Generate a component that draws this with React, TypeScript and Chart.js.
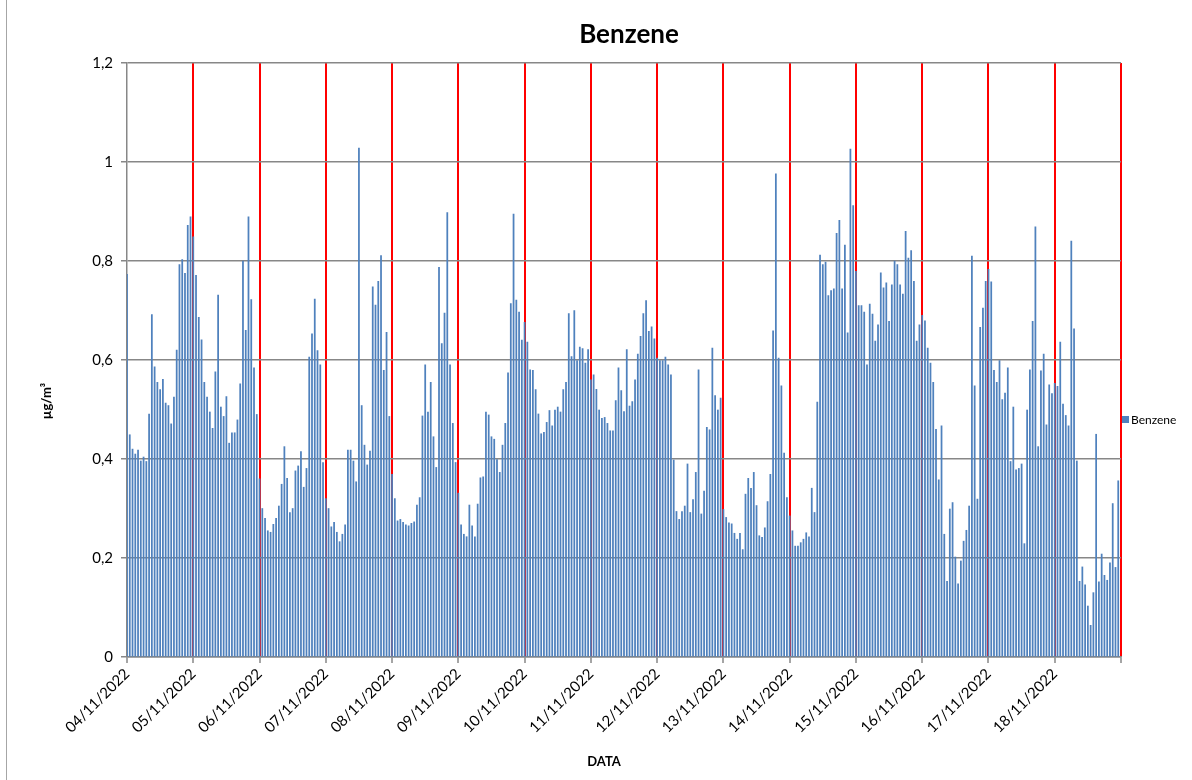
import React, { useEffect, useRef } from 'react';
import { Chart, registerables } from 'chart.js';

Chart.register(...registerables);

const dayLabels = [
  '04/11/2022', '05/11/2022', '06/11/2022', '07/11/2022', '08/11/2022',
  '09/11/2022', '10/11/2022', '11/11/2022', '12/11/2022', '13/11/2022',
  '14/11/2022', '15/11/2022', '16/11/2022', '17/11/2022', '18/11/2022',
];

const day04 = [0.773, 0.449, 0.42, 0.41, 0.418, 0.396, 0.404, 0.395, 0.491, 0.692, 0.586, 0.555, 0.54, 0.561, 0.513, 0.508, 0.471, 0.525, 0.62, 0.793, 0.803, 0.775, 0.872, 0.889];
const day05 = [0.849, 0.771, 0.686, 0.641, 0.555, 0.525, 0.495, 0.462, 0.576, 0.731, 0.505, 0.486, 0.526, 0.432, 0.453, 0.453, 0.479, 0.552, 0.8, 0.66, 0.889, 0.722, 0.584, 0.49];
const day06 = [0.36, 0.3, 0.28, 0.255, 0.252, 0.268, 0.28, 0.305, 0.349, 0.425, 0.361, 0.292, 0.3, 0.376, 0.386, 0.415, 0.343, 0.381, 0.606, 0.653, 0.723, 0.619, 0.59, 0.393];
const day07 = [0.32, 0.3, 0.263, 0.272, 0.252, 0.233, 0.248, 0.267, 0.418, 0.418, 0.396, 0.354, 1.028, 0.508, 0.428, 0.388, 0.416, 0.748, 0.711, 0.759, 0.811, 0.579, 0.656, 0.486];
const day08 = [0.369, 0.32, 0.275, 0.278, 0.272, 0.267, 0.265, 0.27, 0.273, 0.307, 0.322, 0.487, 0.59, 0.495, 0.555, 0.445, 0.383, 0.787, 0.633, 0.695, 0.898, 0.59, 0.472, 0.393];
const day09 = [0.331, 0.267, 0.248, 0.243, 0.307, 0.265, 0.243, 0.309, 0.362, 0.364, 0.495, 0.489, 0.445, 0.44, 0.399, 0.373, 0.428, 0.472, 0.574, 0.714, 0.895, 0.721, 0.697, 0.64];
const day10 = [0.676, 0.636, 0.58, 0.579, 0.54, 0.491, 0.451, 0.454, 0.474, 0.498, 0.467, 0.499, 0.505, 0.495, 0.54, 0.555, 0.694, 0.607, 0.7, 0.599, 0.626, 0.623, 0.594, 0.621];
const day11 = [0.56, 0.57, 0.541, 0.499, 0.482, 0.484, 0.472, 0.457, 0.457, 0.518, 0.584, 0.538, 0.496, 0.621, 0.507, 0.516, 0.56, 0.612, 0.648, 0.694, 0.72, 0.658, 0.667, 0.643];
const day12 = [0.604, 0.599, 0.599, 0.606, 0.59, 0.57, 0.398, 0.294, 0.278, 0.294, 0.305, 0.39, 0.292, 0.318, 0.373, 0.58, 0.289, 0.335, 0.464, 0.459, 0.624, 0.528, 0.499, 0.523];
const day13 = [0.298, 0.282, 0.271, 0.269, 0.25, 0.238, 0.25, 0.217, 0.329, 0.361, 0.341, 0.373, 0.306, 0.245, 0.242, 0.261, 0.314, 0.369, 0.659, 0.976, 0.604, 0.548, 0.412, 0.322];
const day14 = [0.285, 0.255, 0.224, 0.224, 0.231, 0.238, 0.251, 0.243, 0.341, 0.292, 0.515, 0.812, 0.793, 0.798, 0.73, 0.74, 0.744, 0.856, 0.882, 0.744, 0.832, 0.655, 1.026, 0.912];
const day15 = [0.779, 0.71, 0.71, 0.697, 0.59, 0.713, 0.693, 0.638, 0.671, 0.776, 0.746, 0.756, 0.678, 0.752, 0.8, 0.793, 0.752, 0.733, 0.86, 0.806, 0.821, 0.759, 0.638, 0.671];
const day16 = [0.69, 0.679, 0.624, 0.594, 0.555, 0.46, 0.358, 0.467, 0.248, 0.153, 0.299, 0.312, 0.202, 0.148, 0.194, 0.234, 0.256, 0.305, 0.81, 0.548, 0.319, 0.666, 0.705, 0.759];
const day17 = [0.783, 0.758, 0.579, 0.555, 0.599, 0.52, 0.533, 0.584, 0.395, 0.505, 0.378, 0.381, 0.39, 0.229, 0.499, 0.58, 0.678, 0.869, 0.425, 0.578, 0.612, 0.469, 0.55, 0.532];
const day18 = [0.553, 0.547, 0.636, 0.511, 0.488, 0.467, 0.84, 0.663, 0.396, 0.153, 0.182, 0.146, 0.103, 0.064, 0.13, 0.45, 0.152, 0.208, 0.165, 0.155, 0.19, 0.31, 0.181, 0.356];

const days = [day04, day05, day06, day07, day08, day09, day10, day11, day12, day13, day14, day15, day16, day17, day18];
const benzene: number[] = days.flat();

const seriesName = 'Benzene';
const chartTitle = 'Benzene';
const yTitle = 'µg/m³';
const xTitle = 'DATA';

const FONT = 'Lato, "Open Sans", sans-serif';
const BAR = '#4F81BD';
const GRID = '#878787';

const decor = {
  id: 'decor',
  afterDraw(chart: any) {
    const ctx = chart.ctx;
    const area = chart.chartArea;
    ctx.save();
    ctx.strokeStyle = '#a6a6a6';
    ctx.lineWidth = 1;
    ctx.beginPath();
    ctx.moveTo(6.5, 0);
    ctx.lineTo(6.5, 780);
    ctx.stroke();
    ctx.fillStyle = '#000';
    ctx.textAlign = 'center';
    ctx.textBaseline = 'middle';
    ctx.font = `bold 26px ${FONT}`;
    ctx.fillText(chartTitle, 629, 35);
    ctx.font = `bold 13px ${FONT}`;
    ctx.fillText(xTitle, 604, 762);
    ctx.save();
    ctx.translate(47, 401);
    ctx.rotate(-Math.PI / 2);
    ctx.fillText(yTitle, 0, 0);
    ctx.restore();
    const lx = area.right + 1;
    ctx.fillStyle = BAR;
    ctx.fillRect(lx, 416, 7, 7);
    ctx.fillStyle = '#000';
    ctx.textAlign = 'left';
    ctx.font = `12px ${FONT}`;
    ctx.fillText(seriesName, lx + 9, 420);
    ctx.restore();
  },
};

export default function App() {
  const ref = useRef<HTMLCanvasElement | null>(null);
  useEffect(() => {
    if (!ref.current) return;
    const chart = new Chart(ref.current, {
      type: 'bar',
      data: {
        datasets: [
          {
            label: seriesName,
            data: benzene.map((v, i) => ({ x: i, y: v })),
            backgroundColor: BAR,
            borderWidth: 0,
            barThickness: 1.1,
          },
        ],
      },
      options: {
        animation: false,
        responsive: false,
        devicePixelRatio: 1,
        layout: { padding: { left: 0, right: 71, top: 63, bottom: 0 } },
        plugins: {
          legend: { display: false },
          title: { display: false },
          tooltip: { enabled: false },
        },
        scales: {
          x: {
            type: 'linear',
            min: 0,
            max: 360,
            offset: false,
            afterFit: (s: any) => { s.height = 123; },
            afterBuildTicks: (s: any) => {
              s.ticks = Array.from({ length: 16 }, (_, k) => ({ value: k * 24 }));
            },
            ticks: {
              autoSkip: false,
              maxRotation: 45,
              minRotation: 45,
              padding: 2,
              color: '#000',
              font: { family: FONT, size: 15 },
              callback: (v: any) => dayLabels[Math.round(Number(v) / 24)] ?? '',
            },
            grid: {
              offset: false,
              color: (c: any) => (c.tick && c.tick.value === 0 ? 'rgba(0,0,0,0)' : '#FF0000'),
              lineWidth: 2,
              tickColor: GRID,
              tickWidth: 1.5,
              tickLength: 6,
            },
            border: { color: GRID, width: 1.5 },
          },
          y: {
            min: 0,
            max: 1.2,
            afterFit: (s: any) => { s.width = 127; },
            ticks: {
              stepSize: 0.2,
              padding: 8,
              color: '#000',
              font: { family: FONT, size: 15 },
              callback: (v: any) => String(Math.round(Number(v) * 10) / 10).replace('.', ','),
            },
            grid: { color: GRID, lineWidth: 1.5, tickLength: 6 },
            border: { color: GRID, width: 1.5 },
          },
        },
      },
      plugins: [decor],
    });
    return () => chart.destroy();
  }, []);
  return (
    <div style={{ position: 'absolute', left: 0, top: 0, width: 1192, height: 780, background: '#fff' }}>
      <canvas ref={ref} width={1192} height={780} style={{ display: 'block' }} />
    </div>
  );
}
